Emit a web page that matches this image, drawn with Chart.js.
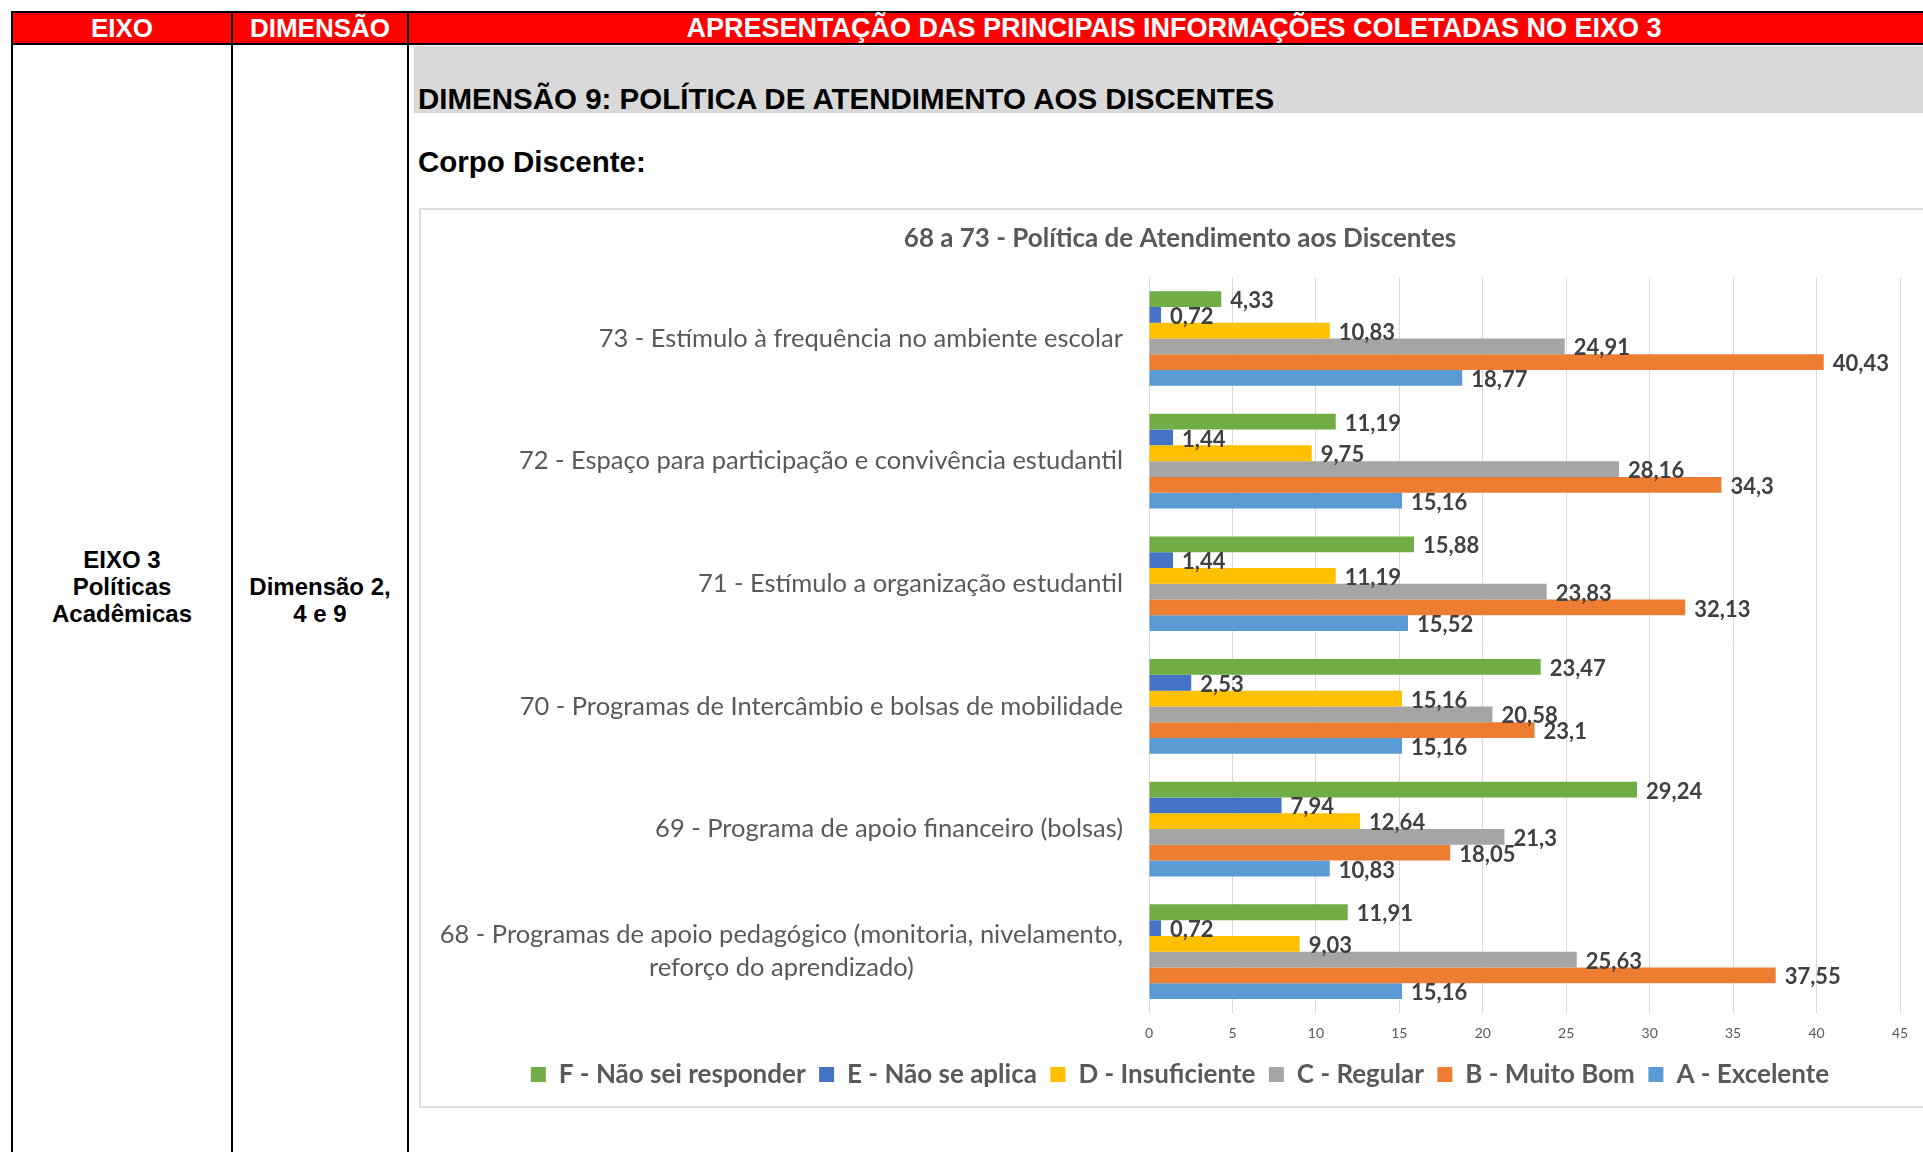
<!DOCTYPE html>
<html>
<head>
<meta charset="utf-8">
<script src="https://cdn.jsdelivr.net/npm/chart.js@4"></script>
<style>
  body { margin: 0; width: 1923px; height: 1152px; overflow: hidden; background: #fff; position: relative; font-family: "Liberation Sans", Arial, sans-serif; }
  .vline { position: absolute; top: 11px; width: 2px; height: 1200px; background: #000; }
  .head { position: absolute; left: 11px; top: 11px; width: 1940px; height: 30px; background: #ff0000; border-top: 2px solid #000; border-bottom: 2px solid #000; }
  .htxt { position: absolute; top: 13px; height: 30px; line-height: 30px; color: #fff; font-weight: bold; font-size: 26px; text-align: center; white-space: nowrap; }
  .band { position: absolute; left: 414px; top: 46px; width: 1600px; height: 67px; background: #d9d9d9; }
  .big { position: absolute; left: 418px; font-weight: bold; font-size: 29.5px; color: #000; white-space: nowrap; }
  .cell { position: absolute; font-weight: bold; font-size: 24px; line-height: 27px; text-align: center; color: #000; }
  #box { position: absolute; left: 419px; top: 208px; width: 1522px; height: 900px; border: 2px solid #dcdcdc; box-sizing: border-box; }
</style>
</head>
<body>
<div class="head"></div>
<div class="vline" style="left:11px"></div>
<div class="vline" style="left:231px"></div>
<div class="vline" style="left:407px"></div>
<div class="htxt" style="left:13px;width:218px">EIXO</div>
<div class="htxt" style="left:233px;width:174px">DIMENSÃO</div>
<div class="htxt" style="left:409px;width:1530px;font-size:27px">APRESENTAÇÃO DAS PRINCIPAIS INFORMAÇÕES COLETADAS NO EIXO 3</div>
<div class="band"></div>
<div class="big" style="top:82px">DIMENSÃO 9: POLÍTICA DE ATENDIMENTO AOS DISCENTES</div>
<div class="big" style="top:145px">Corpo Discente:</div>
<div class="cell" style="left:13px;width:218px;top:546px">EIXO 3<br>Políticas<br>Acadêmicas</div>
<div class="cell" style="left:233px;width:174px;top:573px">Dimensão 2,<br>4 e 9</div>
<div id="box"><canvas id="chart"></canvas></div>

<script>
// categorias, de cima para baixo
const categories = [
  '73 - Estímulo à frequência no ambiente escolar',
  '72 - Espaço para participação e convivência estudantil',
  '71 - Estímulo a organização estudantil',
  '70 - Programas de Intercâmbio e bolsas de mobilidade',
  '69 - Programa de apoio financeiro (bolsas)',
  ['68 - Programas de apoio pedagógico (monitoria, nivelamento,', 'reforço do aprendizado)'],
];

const naoSeiResponder = [4.33, 11.19, 15.88, 23.47, 29.24, 11.91];
const naoSeAplica = [0.72, 1.44, 1.44, 2.53, 7.94, 0.72];
const insuficiente = [10.83, 9.75, 11.19, 15.16, 12.64, 9.03];
const regular = [24.91, 28.16, 23.83, 20.58, 21.3, 25.63];
const muitoBom = [40.43, 34.3, 32.13, 23.1, 18.05, 37.55];
const excelente = [18.77, 15.16, 15.52, 15.16, 10.83, 15.16];

const xTicks = [0, 5, 10, 15, 20, 25, 30, 35, 40, 45];

// rótulos de valor no fim das barras
const barLabels = {
  id: 'barLabels',
  afterDatasetsDraw(chart) {
    const ctx = chart.ctx;
    ctx.save();
    ctx.font = 'bold 22px Lato';
    ctx.fillStyle = '#404040';
    ctx.textAlign = 'left';
    ctx.textBaseline = 'middle';
    chart.data.datasets.forEach((ds, i) => {
      chart.getDatasetMeta(i).data.forEach((bar, j) => {
        ctx.fillText(String(ds.data[j]).replace('.', ','), bar.x + 9, bar.y + 2);
      });
    });
    ctx.restore();
  }
};

// rótulos das categorias (linhas centralizadas entre si, bloco alinhado à direita)
const catLabels = {
  id: 'catLabels',
  afterDraw(chart) {
    const ctx = chart.ctx;
    const y = chart.scales.y;
    ctx.save();
    ctx.font = '25.5px Lato';
    ctx.fillStyle = '#595959';
    ctx.textAlign = 'center';
    ctx.textBaseline = 'middle';
    chart.data.labels.forEach((c, i) => {
      const lines = Array.isArray(c) ? c : [c];
      const w = Math.max(...lines.map(l => ctx.measureText(l).width));
      const cx = y.right - 26 - w / 2;
      const cy = y.getPixelForValue(i);
      lines.forEach((l, k) => ctx.fillText(l, cx, cy + (k - (lines.length - 1) / 2) * 33));
    });
    ctx.restore();
  }
};

function createBarChart() {
  Chart.defaults.font.family = 'Lato';
  const ctx = document.getElementById('chart').getContext('2d');
  new Chart(ctx, {
    type: 'bar',
    data: {
      labels: categories,
      datasets: [
        { label: 'F - Não sei responder', data: naoSeiResponder, backgroundColor: '#70ad47' },
        { label: 'E - Não se aplica', data: naoSeAplica, backgroundColor: '#4472c4' },
        { label: 'D - Insuficiente', data: insuficiente, backgroundColor: '#ffc000' },
        { label: 'C - Regular', data: regular, backgroundColor: '#a5a5a5' },
        { label: 'B - Muito Bom', data: muitoBom, backgroundColor: '#ed7d31' },
        { label: 'A - Excelente', data: excelente, backgroundColor: '#5b9bd5' },
      ],
    },
    options: {
      indexAxis: 'y',
      responsive: true,
      maintainAspectRatio: false,
      animation: false,
      categoryPercentage: 0.772,
      barPercentage: 1,
      layout: { padding: { left: 39, right: 39, top: 0, bottom: 8.5 } },
      plugins: {
        title: {
          display: true,
          text: '68 a 73 - Política de Atendimento aos Discentes',
          color: '#595959',
          font: { size: 26, weight: 'bold' },
          padding: { top: 13, bottom: 23 },
        },
        legend: {
          position: 'bottom',
          labels: {
            color: '#595959',
            font: { size: 26, weight: 'bold' },
            boxWidth: 15,
            boxHeight: 15,
            padding: 13.5,
          },
        },
        tooltip: { enabled: false },
      },
      scales: {
        x: {
          min: 0,
          max: 45,
          afterBuildTicks(scale) { scale.ticks = xTicks.map(v => ({ value: v })); },
          afterFit(scale) { scale.height = 35; },
          ticks: { color: '#595959', font: { size: 14 }, padding: 12 },
          grid: { color: '#d9d9d9', drawTicks: false },
          border: { display: false },
        },
        y: {
          afterFit(scale) { scale.width = 689; },
          ticks: { display: false },
          grid: { display: false },
          border: { display: false },
        },
      },
    },
    plugins: [barLabels, catLabels],
  });
}

document.addEventListener('DOMContentLoaded', () => {
  const ready = document.fonts
    ? Promise.all([document.fonts.load('20px Lato'), document.fonts.load('bold 20px Lato')])
    : Promise.resolve();
  ready.then(createBarChart, createBarChart);
});
</script>
</body>
</html>
